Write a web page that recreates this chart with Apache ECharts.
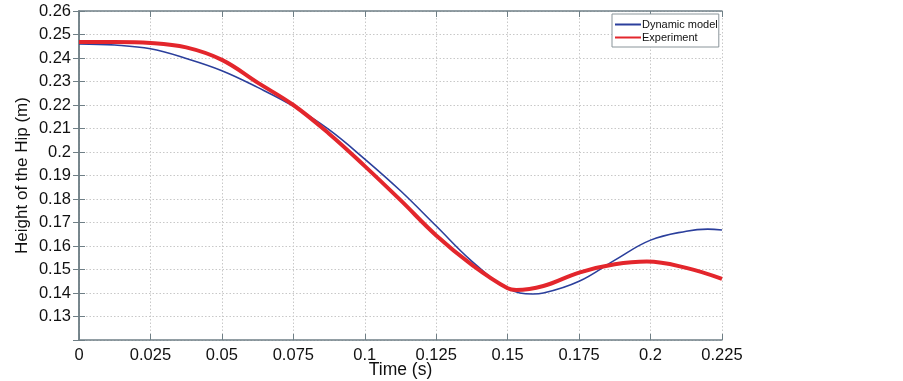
<!DOCTYPE html>
<html><head><meta charset="utf-8">
<script src="https://cdn.jsdelivr.net/npm/echarts@6/dist/echarts.min.js"></script>
<style>html,body{margin:0;padding:0;background:#fff}#c{width:903px;height:381px}</style>
</head><body><div id="c"></div>
<script>
const timeModel = [0,0.0125,0.025,0.0375,0.05,0.0625,0.075,0.0875,0.1,0.1125,0.125,0.1375,0.15,0.1588,0.1625,0.175,0.1875,0.2,0.2125,0.22,0.225];
const dynamicModel = [0.2460,0.2455,0.2439,0.2398,0.2346,0.2275,0.2195,0.2095,0.1970,0.1835,0.1685,0.1535,0.1420,0.1396,0.1400,0.1450,0.1540,0.1625,0.1663,0.1672,0.1668];
const timeExp = [0,0.0125,0.025,0.0375,0.05,0.0625,0.075,0.0875,0.1,0.1125,0.125,0.1375,0.15,0.153,0.1625,0.175,0.1875,0.1987,0.2125,0.225];
const experiment = [0.2468,0.2468,0.2464,0.2445,0.2392,0.2295,0.2200,0.2078,0.1940,0.1795,0.1645,0.1520,0.1420,0.1413,0.1430,0.1487,0.1522,0.1534,0.1507,0.1460];
const xTicks = [0,0.025,0.05,0.075,0.1,0.125,0.15,0.175,0.2,0.225];
const yTicks = [0.13,0.14,0.15,0.16,0.17,0.18,0.19,0.2,0.21,0.22,0.23,0.24,0.25,0.26];

const fmt = v => { const r = Math.round(v*10000)/10000; return String(r); };
const font = '"Liberation Sans", Arial, sans-serif';
const axisCol = '#6f7f86';
const chart = echarts.init(document.getElementById('c'));
chart.setOption({
  animation:false,
  grid: {left:79, right:181, top:11, bottom:41, outerBoundsMode:'none', containLabel:false},
  legend: {
    data:[{name:'Dynamic model', icon:'rect'},{name:'Experiment', icon:'rect'}],
    orient:'vertical', left:612, top:14,
    itemWidth:26, itemHeight:2, itemGap:2,
    padding:[5,1,4,3],
    borderColor:'#8a959a', borderWidth:1, backgroundColor:'#fff',
    textStyle:{fontFamily:font, fontSize:11, color:'#111', padding:[0,0,0,-4]}
  },
  xAxis: [{
    type:'value', min:0, max:0.225, interval:0.025,
    name:'Time (s)', nameLocation:'middle', nameGap:21, nameMoveOverlap:false,
    nameTextStyle:{fontFamily:font, fontSize:17.5, color:'#111'},
    axisLine:{lineStyle:{color:axisCol, width:1.5}},
    axisTick:{inside:true, length:6, lineStyle:{color:axisCol}},
    axisLabel:{fontFamily:font, fontSize:16.5, color:'#111', margin:7,
      formatter: v => xTicks.some(t=>Math.abs(t-v)<1e-9) ? fmt(v) : ''},
    splitLine:{show:true, lineStyle:{color:'#c8c8c8', type:[1.5,2], width:1}}
  },{
    type:'value', min:0, max:0.225, interval:0.025, position:'top',
    axisLine:{show:true, lineStyle:{color:axisCol, width:1.5}},
    axisTick:{inside:true, length:6, lineStyle:{color:axisCol}},
    axisLabel:{show:false}, splitLine:{show:false}
  }],
  yAxis: [{
    type:'value', min:0.12, max:0.26, interval:0.01,
    name:'Height of the Hip (m)', nameLocation:'middle', nameGap:48, nameMoveOverlap:false,
    nameTextStyle:{fontFamily:font, fontSize:17, color:'#111'},
    axisLine:{show:true, lineStyle:{color:axisCol, width:1.5}},
    axisTick:{inside:true, length:6, lineStyle:{color:axisCol}},
    axisLabel:{fontFamily:font, fontSize:16.5, color:'#111', margin:8,
      formatter: v => yTicks.some(t=>Math.abs(t-v)<1e-9) ? fmt(v) : ''},
    splitLine:{show:true, lineStyle:{color:'#c8c8c8', type:[1.5,2], width:1}}
  },{
    type:'value', min:0.12, max:0.26, interval:0.01, position:'right',
    axisLine:{show:true, lineStyle:{color:axisCol, width:1.5}},
    axisTick:{inside:true, length:6, lineStyle:{color:axisCol}},
    axisLabel:{show:false}, splitLine:{show:false}
  }],
  series: [{
    name:'Dynamic model', type:'line', smooth:0.4, showSymbol:false, symbol:'none',
    data: timeModel.map((t,i)=>[t, dynamicModel[i]]),
    lineStyle:{color:'#2b3f9c', width:1.6}, itemStyle:{color:'#2b3f9c'}
  },{
    name:'Experiment', type:'line', smooth:0.4, showSymbol:false, symbol:'none',
    data: timeExp.map((t,i)=>[t, experiment[i]]),
    lineStyle:{color:'#e3262c', width:4}, itemStyle:{color:'#e3262c'}
  }]
});
</script></body></html>
